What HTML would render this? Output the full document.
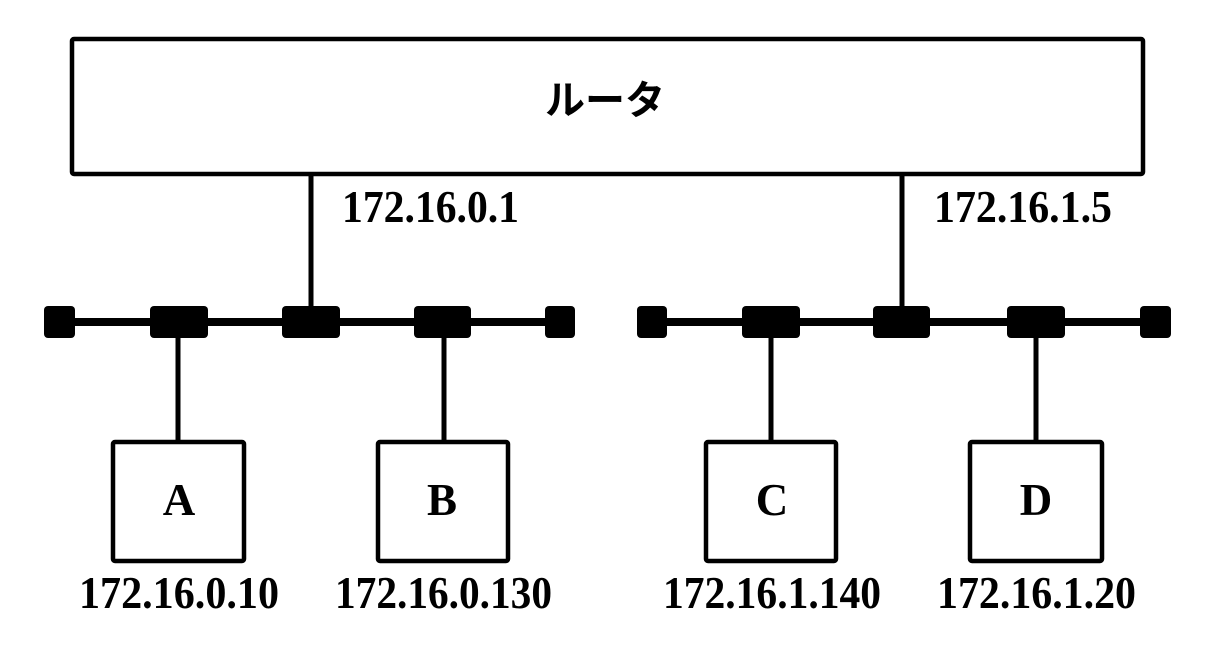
<!DOCTYPE html>
<html>
<head>
<meta charset="utf-8">
<style>
html,body{margin:0;padding:0;background:#fff;}
svg{display:block;}
.ip{font-family:"Liberation Serif",serif;font-weight:bold;font-size:45px;fill:#000;}
.lt{font-family:"Liberation Serif",serif;font-weight:bold;font-size:45px;fill:#000;}
</style>
</head>
<body>
<svg width="1214" height="652" viewBox="0 0 1214 652" xmlns="http://www.w3.org/2000/svg">
  <rect x="0" y="0" width="1214" height="652" fill="#fff"/>
  <!-- Router -->
  <rect x="72" y="39" width="1071" height="135" rx="2" fill="none" stroke="#000" stroke-width="4.5"/>
  <text x="605" y="101" dominant-baseline="central" text-anchor="middle" font-family="'Liberation Sans','Noto Sans CJK JP',sans-serif" font-size="40" font-weight="bold" fill="#000">ルータ</text>

  <!-- router drops -->
  <line x1="311" y1="174" x2="311" y2="322" stroke="#000" stroke-width="5"/>
  <line x1="902" y1="174" x2="902" y2="322" stroke="#000" stroke-width="5"/>
  <text class="ip" x="342" y="222" textLength="177" lengthAdjust="spacingAndGlyphs">172.16.0.1</text>
  <text class="ip" x="934" y="222" textLength="178" lengthAdjust="spacingAndGlyphs">172.16.1.5</text>

  <!-- buses -->
  <line x1="59" y1="322" x2="560" y2="322" stroke="#000" stroke-width="8"/>
  <line x1="652" y1="322" x2="1156" y2="322" stroke="#000" stroke-width="8"/>

  <!-- left bus squares -->
  <rect x="44" y="306" width="31" height="32" rx="4" fill="#000"/>
  <rect x="150" y="306" width="58" height="32" rx="4" fill="#000"/>
  <rect x="282" y="306" width="58" height="32" rx="4" fill="#000"/>
  <rect x="414" y="306" width="57" height="32" rx="4" fill="#000"/>
  <rect x="545" y="306" width="30" height="32" rx="4" fill="#000"/>
  <!-- right bus squares -->
  <rect x="637" y="306" width="30" height="32" rx="4" fill="#000"/>
  <rect x="742" y="306" width="58" height="32" rx="4" fill="#000"/>
  <rect x="873" y="306" width="57" height="32" rx="4" fill="#000"/>
  <rect x="1007" y="306" width="58" height="32" rx="4" fill="#000"/>
  <rect x="1140" y="306" width="31" height="32" rx="4" fill="#000"/>

  <!-- drops to hosts -->
  <line x1="178" y1="330" x2="178" y2="442" stroke="#000" stroke-width="5"/>
  <line x1="444" y1="330" x2="444" y2="442" stroke="#000" stroke-width="5"/>
  <line x1="771" y1="330" x2="771" y2="442" stroke="#000" stroke-width="5"/>
  <line x1="1036" y1="330" x2="1036" y2="442" stroke="#000" stroke-width="5"/>

  <!-- hosts -->
  <rect x="113" y="442" width="131" height="119" rx="2" fill="#fff" stroke="#000" stroke-width="4.5"/>
  <rect x="378" y="442" width="130" height="119" rx="2" fill="#fff" stroke="#000" stroke-width="4.5"/>
  <rect x="706" y="442" width="130" height="119" rx="2" fill="#fff" stroke="#000" stroke-width="4.5"/>
  <rect x="970" y="442" width="132" height="119" rx="2" fill="#fff" stroke="#000" stroke-width="4.5"/>

  <text class="lt" x="179" y="515" text-anchor="middle">A</text>
  <text class="lt" x="442" y="515" text-anchor="middle">B</text>
  <text class="lt" x="772" y="515" text-anchor="middle">C</text>
  <text class="lt" x="1036" y="515" text-anchor="middle">D</text>

  <text class="ip" x="79" y="608" textLength="200" lengthAdjust="spacingAndGlyphs">172.16.0.10</text>
  <text class="ip" x="335" y="608" textLength="217" lengthAdjust="spacingAndGlyphs">172.16.0.130</text>
  <text class="ip" x="663" y="608" textLength="218" lengthAdjust="spacingAndGlyphs">172.16.1.140</text>
  <text class="ip" x="937" y="608" textLength="199" lengthAdjust="spacingAndGlyphs">172.16.1.20</text>
</svg>
</body>
</html>
